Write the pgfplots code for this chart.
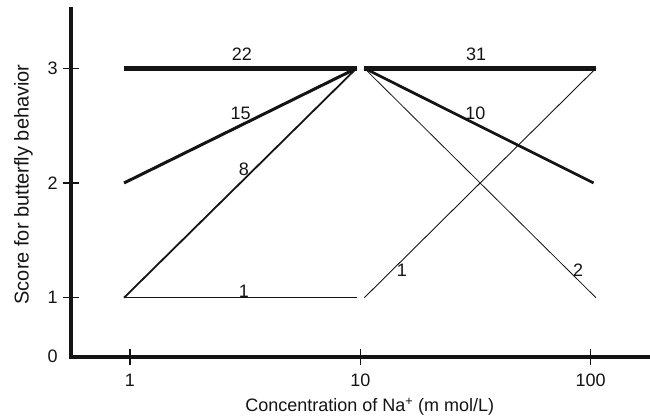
\documentclass[border=0pt]{standalone}
\usepackage{fontspec}
\setmainfont{Liberation Sans}
\usepackage{pgfplots}
\pgfplotsset{compat=1.18}
\definecolor{ink}{HTML}{141414}
\begin{document}
\begin{tikzpicture}
\begin{axis}[
 at={(0,0)}, anchor=south west,
 scale only axis, width=579pt, height=347.4pt,
 xmode=log, xmin=0.5544, xmax=181.1,
 ymin=0.486, ymax=3.514,
 axis x line*=bottom, axis y line*=left,
 axis line style={line width=4pt, -, line cap=rect, ink},
 xtick={1,10,100}, xticklabels={1,10,100},
 ytick={1,2,3}, yticklabels={1,2,3},
 extra y ticks={0.486}, extra y tick labels={0},
 extra y tick style={tick style={draw=none}},
 xminorticks=false, yminorticks=false,
 tick align=center, major tick length=16pt,
 tick style={line width=1.5pt, ink},
 font=\fontsize{18}{21}\selectfont,
 /pgf/number format/assume math mode=true,
 xticklabel style={yshift=-6pt, text=ink},
 yticklabel style={xshift=-2pt, text=ink},
 xlabel={Concentration of Na\textsuperscript{+} (m mol/L)},
 ylabel={Score for butterfly behavior},
 xlabel style={at={(axis description cs:0.516,-0.145)}, anchor=center, text=ink},
 ylabel style={at={(axis description cs:-0.082,0.496)}, anchor=center, text=ink, font=\fontsize{20}{23}\selectfont},
 clip=false,
]
% left group (1 -> 10)
\addplot[ink, line width=5pt] coordinates {(0.942,3) (9.63,3)};
\addplot[ink, line width=3pt] coordinates {(0.942,2) (9.63,3)};
\addplot[ink, line width=1.8pt] coordinates {(0.942,1) (9.63,3)};
\addplot[ink, line width=1.1pt] coordinates {(0.942,1) (9.63,1)};
% right group (10 -> 100)
\addplot[ink, line width=5.3pt] coordinates {(10.41,3) (105.5,3)};
\addplot[ink, line width=2.7pt] coordinates {(10.41,3) (103,2)};
\addplot[ink, line width=0.8pt] coordinates {(10.41,3) (105.5,1)};
\addplot[ink, line width=0.9pt] coordinates {(10.41,1) (105.5,3)};
% counts
\node[ink] at (axis cs:3.06,3.125) {22};
\node[ink] at (axis cs:3.02,2.61) {15};
\node[ink] at (axis cs:3.12,2.122) {8};
\node[ink] at (axis cs:3.12,1.058) {1};
\node[ink] at (axis cs:31.8,3.125) {31};
\node[ink] at (axis cs:31.6,2.61) {10};
\node[ink] at (axis cs:15.17,1.241) {1};
\node[ink] at (axis cs:88.2,1.241) {2};
\end{axis}
\pgfresetboundingbox
\path[use as bounding box] (-71pt,-62.3pt) rectangle (579pt,356.7pt);
\end{tikzpicture}
\end{document}
